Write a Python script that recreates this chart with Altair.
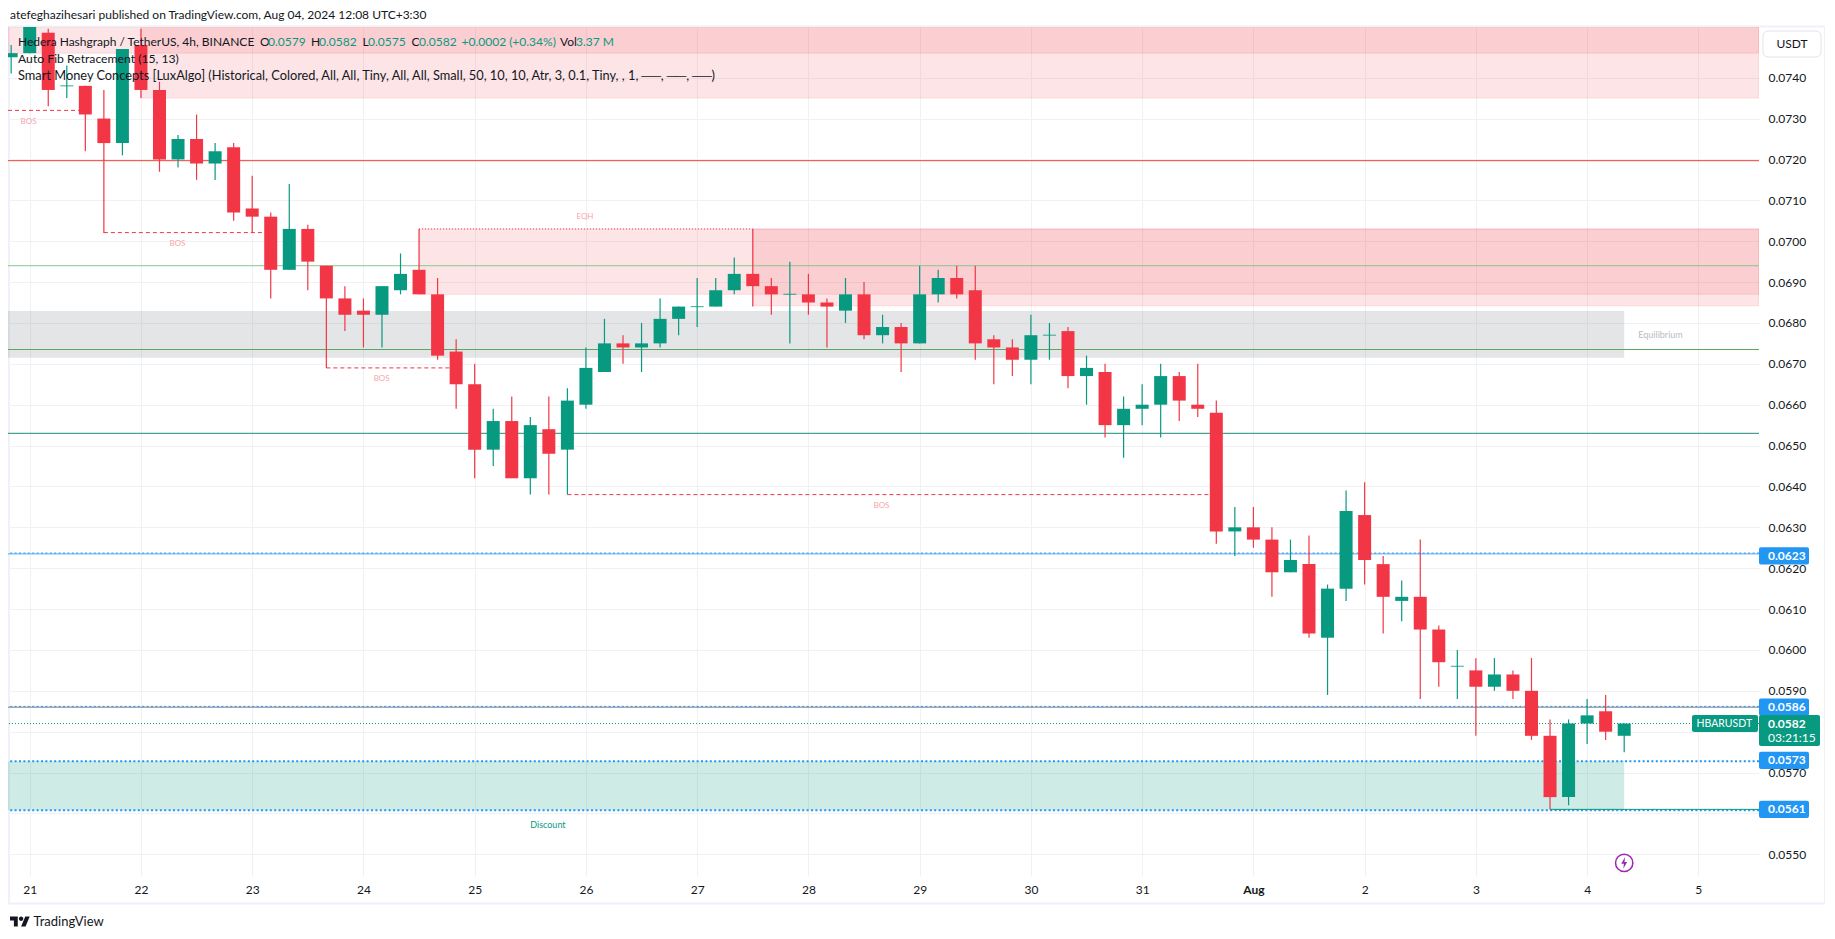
import altair as alt
import pandas as pd

opens = [.0745,.0746,.0751,.0738,.0738,.0730,.0724,.0748,.0737,.0720,.0725,.0719,.0723,.0708,.0706,.0693,.0703,.0694,.0686,.0683,
         .0682,.0688,.0693,.0687,.0673,.0665,.0649,.0656,.0642,.0654,.0649,.0660,.0668,.0675,.0674,.0675,.0681,.0684,.0684,.0688,
         .0692,.0689,.0687,.0687,.0685,.0683,.0687,.0677,.0679,.0675,.0687,.0691,.0688,.0676,.0674,.0671,.0677,.0678,.0667,.0668,
         .0655,.0659,.0660,.0667,.0660,.0658,.0629,.0630,.0627,.0619,.0621,.0603,.0615,.0633,.0621,.0612,.0613,.0605,.0596,.0595,
         .0591,.0594,.0590,.0579,.0564,.0582,.0585,.0579]
highs = [.0748,.0757,.0752,.0743,.0738,.0737,.0747,.0752,.0739,.0726,.0731,.0724,.0724,.0716,.0707,.0714,.0704,.0694,.0689,.0686,
         .0689,.0697,.0703,.0691,.0676,.0670,.0659,.0662,.0657,.0662,.0664,.0674,.0681,.0677,.0680,.0686,.0684,.0691,.0691,.0696,
         .0703,.0691,.0695,.0692,.0686,.0691,.0690,.0682,.0680,.0694,.0693,.0694,.0694,.0677,.0676,.0682,.0680,.0679,.0672,.0670,
         .0662,.0665,.0670,.0668,.0670,.0661,.0635,.0635,.0630,.0627,.0628,.0616,.0639,.0641,.0623,.0617,.0627,.0606,.0600,.0598,
         .0598,.0595,.0598,.0583,.0583,.0588,.0589,.0582]
lows = [.0741,.0746,.0733,.0735,.0722,.0702,.0721,.0735,.0717,.0718,.0715,.0715,.0705,.0702,.0686,.0693,.0688,.0669,.0678,.0674,
        .0674,.0687,.0687,.0671,.0659,.0642,.0645,.0642,.0638,.0638,.0638,.0659,.0668,.0670,.0668,.0674,.0677,.0679,.0684,.0687,
        .0684,.0682,.0675,.0682,.0674,.0680,.0676,.0675,.0668,.0675,.0685,.0686,.0671,.0665,.0667,.0665,.0671,.0664,.0660,.0652,
        .0647,.0655,.0652,.0656,.0657,.0626,.0623,.0625,.0613,.0619,.0603,.0589,.0612,.0616,.0604,.0607,.0588,.0591,.0588,.0579,
        .0590,.0588,.0578,.0561,.0562,.0577,.0578,.0575]
closes = [.0746,.0755,.0737,.0738,.0731,.0724,.0747,.0737,.0720,.0725,.0719,.0722,.0707,.0706,.0693,.0703,.0695,.0686,.0682,.0682,
          .0689,.0692,.0687,.0672,.0665,.0649,.0656,.0642,.0655,.0648,.0661,.0669,.0675,.0674,.0675,.0681,.0684,.0684,.0688,.0692,
          .0689,.0687,.0687,.0685,.0684,.0687,.0677,.0679,.0675,.0687,.0691,.0687,.0675,.0674,.0671,.0677,.0677,.0667,.0669,.0655,
          .0659,.0660,.0667,.0661,.0659,.0629,.0630,.0627,.0619,.0622,.0604,.0615,.0634,.0622,.0613,.0613,.0605,.0597,.0596,.0591,
          .0594,.0590,.0579,.0564,.0582,.0584,.0580,.0582]

times = pd.date_range("2024-07-20 20:00", periods=len(opens), freq="4h").strftime("%Y-%m-%dT%H:%M:%SZ").tolist()
x_start = "2024-07-20T19:19:00Z"
x_end = "2024-08-05T13:05:00Z"
y_top, y_bottom = 0.07524, 0.05447

price_ticks = [round(0.0550 + i * 0.001, 4) for i in range(20)]
day_ticks = [(7, d) for d in range(21, 32)] + [(8, d) for d in range(1, 6)]

UP, DOWN = "#089981", "#f23645"
TEXT = "#131722"
FONT = "Lato"

df = pd.DataFrame({"t": times, "o": opens, "h": highs, "l": lows, "c": closes})
df["dir"] = ["up" if c >= o else "down" for o, c in zip(opens, closes)]
one = pd.DataFrame({"a": [0]})

xs = alt.Scale(type="utc", domain=[x_start, x_end], padding=0, nice=False)
ys = alt.Scale(domain=[y_bottom, y_top], nice=False, zero=False)
color = alt.Color("dir:N", scale=alt.Scale(domain=["up", "down"], range=[UP, DOWN]), legend=None)

x_axis = alt.Axis(
    values=[alt.DateTime(year=2024, month=m, date=d, hours=0, utc=True) for m, d in day_ticks],
    labelExpr="utcdate(datum.value)==1 ? 'Aug' : ''+utcdate(datum.value)",
    title=None, domain=False, ticks=False, grid=True, gridColor="#f0f1f3", gridWidth=1,
    labelColor=TEXT, labelFont=FONT, labelFontSize=12, labelPadding=8, labelFlush=False, labelOverlap=False,
    labelFontWeight={"condition": {"test": "utcdate(datum.value)==1", "value": "bold"}, "value": "normal"},
)
y_axis = alt.Axis(
    values=price_ticks, format=".4f", orient="right", title=None, domain=False, ticks=False, grid=True,
    gridColor="#f0f1f3", gridWidth=1, labelColor=TEXT, labelFont=FONT, labelFontSize=12, labelPadding=9,
    labelOverlap=False, labelFlush=False,
)


def X(field):
    return alt.X(field, scale=xs, axis=x_axis, title=None)


def Y(field):
    return alt.Y(field, scale=ys, axis=y_axis, title=None)


layers = []

# frame
layers.append(alt.Chart(one).mark_rect(fillOpacity=0, stroke="#eff1f8", strokeWidth=2, clip=False).encode(
    x=alt.value(1), x2=alt.value(1817), y=alt.value(-0.5), y2=alt.value(876.5)))

# base with axes
layers.append(alt.Chart(df).mark_rule(opacity=0).encode(x=X("t:T"), y=Y("c:Q")))

# supply zones (start, end, price top, price bottom)
zones = [
    (x_start, x_end, 0.0755, 0.0746),
    ("2024-07-22T00:00:00Z", x_end, 0.0755, 0.0735),
    ("2024-07-24T12:00:00Z", x_end, 0.0703, 0.0687),
    ("2024-07-27T12:00:00Z", x_end, 0.0703, 0.06842),
]
zdf = pd.DataFrame(zones, columns=["s", "e", "a", "b"])
for i in range(len(zdf)):
    layers.append(alt.Chart(zdf.iloc[[i]]).mark_rect(
        color=DOWN, fillOpacity=0.13, stroke=DOWN, strokeOpacity=0.13, strokeWidth=1, clip=True).encode(
        x=X("s:T"), x2="e:T", y=Y("a:Q"), y2="b:Q"))

# equilibrium and discount
eqd = pd.DataFrame([
    (x_start, times[87], 0.06829, 0.06715, "#787b86"),
    (x_start, times[87], 0.05728, 0.05608, UP),
], columns=["s", "e", "a", "b", "col"])
layers.append(alt.Chart(eqd).mark_rect(opacity=0.2, clip=True).encode(
    x=X("s:T"), x2="e:T", y=Y("a:Q"), y2="b:Q",
    color=alt.Color("col:N", scale=None)))

# full width levels (price, colour, width, dash, opacity)
levels = [
    (0.07197, "#f44336", 1, None, 1),
    (0.0694, "#8cc68f", 1, None, 1),
    (0.06735, "#5ba85f", 1, None, 1),
    (0.0653, "#1b8b76", 1, None, 1),
    (0.06235, "#5aa9ee", 1, None, 1),
    (0.06237, "#2196f3", 1, [2, 2.4], 1),
    (0.0586, "#787b86", 1, None, 1),
    (0.05862, "#2196f3", 1, [2, 2.4], 1),
    (0.0582, UP, 1, [1, 2], 1),
    (0.05728, "#2196f3", 2, [2, 2.4], 1),
    (0.05608, "#2196f3", 2, [2, 2.4], 1),
]
for p, col, w, dash, op in levels:
    kw = {"strokeDash": dash} if dash else {}
    layers.append(alt.Chart(pd.DataFrame({"p": [p]})).mark_rule(color=col, strokeWidth=w, opacity=op, **kw).encode(
        y=Y("p:Q")))

# structure segments
segments = [
    (x_start, times[4], 0.0732, [4, 3], DOWN),
    (times[5], times[14], 0.07021, [4, 3], DOWN),
    (times[17], times[24], 0.0669, [4, 3], DOWN),
    (times[30], times[65], 0.0638, [4, 3], DOWN),
    (times[22], times[40], 0.0703, [1, 2], DOWN),
    (times[83], x_end, 0.0561, None, UP),
]
for s, e, p, dash, col in segments:
    kw = {"strokeDash": dash} if dash else {}
    layers.append(alt.Chart(pd.DataFrame({"s": [s], "e": [e], "p": [p]})).mark_rule(color=col, strokeWidth=1, clip=True, **kw).encode(
        x=X("s:T"), x2="e:T", y=Y("p:Q")))

# candles
layers.append(alt.Chart(df).mark_rule(strokeWidth=1.2, clip=True).encode(
    x=X("t:T"), y=Y("l:Q"), y2="h:Q", color=color))
layers.append(alt.Chart(df).mark_bar(size=13, clip=True).encode(
    x=X("t:T"), y=Y("o:Q"), y2="c:Q", color=color))
layers.append(alt.Chart(df).transform_filter("datum.o==datum.c").mark_tick(orient="horizontal", size=13, thickness=1.2, clip=True).encode(
    x=X("t:T"), y=Y("o:Q"), color=color))

# chart labels placed in data space
labels = [
    ("2024-07-20T23:45:00Z", 0.07292, "BOS", "#f8a5ad", 8),
    ("2024-07-22T07:52:00Z", 0.06992, "BOS", "#f8a5ad", 8),
    ("2024-07-24T03:55:00Z", 0.06662, "BOS", "#f8a5ad", 8),
    ("2024-07-28T15:45:00Z", 0.06351, "BOS", "#f8a5ad", 8),
    ("2024-07-25T23:47:00Z", 0.0706, "EQH", "#f8a5ad", 8),
    ("2024-07-25T15:48:00Z", 0.05571, "Discount", UP, 9),
    ("2024-08-04T15:50:00Z", 0.06771, "Equilibrium", "#b8bbc4", 9),
]
for t, p, s, col, fs in labels:
    layers.append(alt.Chart(pd.DataFrame({"t": [t], "p": [p]})).mark_text(
        text=s, color=col, fontSize=fs, font=FONT, baseline="middle", align="center").encode(
        x=X("t:T"), y=Y("p:Q")))

# price tags
tags = [0.0623, 0.0586, 0.0573, 0.0561]
tag_df = pd.DataFrame({"p": tags})
layers.append(alt.Chart(tag_df).transform_calculate(a="datum.p+0.00021", b="datum.p-0.00021").mark_rect(
    color="#2196f3", cornerRadius=2).encode(
    x=alt.value(1751), x2=alt.value(1801), y=Y("a:Q"), y2="b:Q"))
layers.append(alt.Chart(tag_df).mark_text(color="#ffffff", font=FONT, fontSize=12, fontWeight="bold", align="left", baseline="middle").encode(
    x=alt.value(1760), y=Y("p:Q"), text=alt.Text("p:Q", format=".4f")))

layers.append(alt.Chart(pd.DataFrame({"a": [0.05841], "b": [0.05765]})).mark_rect(color=UP, cornerRadius=2).encode(
    x=alt.value(1751), x2=alt.value(1812), y=Y("a:Q"), y2="b:Q"))
layers.append(alt.Chart(pd.DataFrame({"a": [0.05841], "b": [0.05799]})).mark_rect(color=UP, cornerRadius=2).encode(
    x=alt.value(1684), x2=alt.value(1750), y=Y("a:Q"), y2="b:Q"))
for px, p, s, w, fs in [(1688.5, 0.0582, "HBARUSDT", "normal", 10.5), (1760, 0.0582, "0.0582", "bold", 12), (1760, 0.05785, "03:21:15", "normal", 12)]:
    layers.append(alt.Chart(pd.DataFrame({"p": [p]})).mark_text(
        text=s, color="#ffffff", font=FONT, fontSize=fs, fontWeight=w, align="left", baseline="middle").encode(
        x=alt.value(px), y=Y("p:Q")))

# lightning marker
bolt = "M .15 -1 L -.5 .15 L -.05 .15 L -.15 1 L .5 -.15 L .05 -.15 Z"
mark_df = pd.DataFrame({"t": [times[87]], "p": [0.05479]})
layers.append(alt.Chart(mark_df).mark_point(shape="circle", size=300, filled=False, color="#9c27b0", strokeWidth=1.5, opacity=1).encode(
    x=X("t:T"), y=Y("p:Q")))
layers.append(alt.Chart(mark_df).mark_point(shape=bolt, size=140, filled=True, color="#9c27b0", opacity=1).encode(
    x=X("t:T"), y=Y("p:Q")))

# USDT button
layers.append(alt.Chart(one).mark_rect(fill="#ffffff", stroke="#e0e3eb", strokeWidth=1, cornerRadius=5).encode(
    x=alt.value(1755), x2=alt.value(1813), y=alt.value(4), y2=alt.value(30)))

# page text: (x, y, text, colour, size, align)
FG = TEXT
texts = [
    (1784, 17, "USDT", FG, 12, "center"),
    (2, -12, "atefeghazihesari published on TradingView.com, Aug 04, 2024 12:08 UTC+3:30", FG, 12, "left"),
    (10, 14.7, "Hedera Hashgraph / TetherUS, 4h, BINANCE", FG, 12, "left"),
    (252, 14.7, "O", FG, 12, "left"),
    (260, 14.7, "0.0579", UP, 12, "left"),
    (303, 14.7, "H", FG, 12, "left"),
    (311, 14.7, "0.0582", UP, 12, "left"),
    (354.5, 14.7, "L", FG, 12, "left"),
    (360, 14.7, "0.0575", UP, 12, "left"),
    (403.5, 14.7, "C", FG, 12, "left"),
    (411, 14.7, "0.0582", UP, 12, "left"),
    (453.5, 14.7, "+0.0002 (+0.34%)", UP, 12, "left"),
    (552, 14.7, "Vol", FG, 12, "left"),
    (568, 14.7, "3.37 M", UP, 12, "left"),
    (10, 32, "Auto Fib Retracement (15, 13)", FG, 12.2, "left"),
    (10, 49, "Smart Money Concepts [LuxAlgo] (Historical, Colored, All, All, Tiny, All, All, Small, 50, 10, 10, Atr, 3, 0.1, Tiny, , 1, ──, ──, ──)", FG, 12.8, "left"),
    (25.5, 894.5, "TradingView", FG, 13, "left"),
]
for px, py, s, col, fs, al in texts:
    layers.append(alt.Chart(one).mark_text(text=s, color=col, fontSize=fs, font=FONT, align=al, baseline="middle").encode(
        x=alt.value(px), y=alt.value(py)))

# logo
logo = ("M -.222 .5 H -.611 V -.111 H -1 V -.5 H -.222 Z "
        "M .556 .5 H .111 L .528 -.5 H .972 Z "
        "M .111 -.5 A .222 .222 0 1 1 .111 -.056 A .222 .222 0 1 1 .111 -.5 Z")
layers.append(alt.Chart(one).mark_point(shape=logo, size=400, filled=True, color=TEXT, opacity=1).encode(
    x=alt.value(12), y=alt.value(894.5)))

chart = alt.layer(*layers).properties(
    width=1751, height=849,
    padding={"left": 0, "top": 19, "right": 66, "bottom": 54},
    autosize=alt.AutoSizeParams(type="none"),
    background="#ffffff",
).configure_view(stroke=None)

chart.save("out.html", embed_options={"renderer": "svg", "actions": False})
